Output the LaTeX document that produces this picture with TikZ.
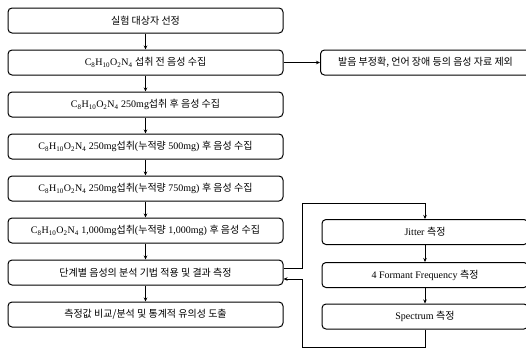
\documentclass[tikz,border=0pt]{standalone}
\usepackage{fontspec}
\setmainfont{Liberation Serif}
\newfontfamily\kr{Noto Sans CJK KR}
\usetikzlibrary{arrows.meta}
\newcommand{\K}[1]{{\kr #1}}
\newcommand{\caf}{C\textsubscript{8}H\textsubscript{10}O\textsubscript{2}N\textsubscript{4}}
\begin{document}
\begin{tikzpicture}[x=1pt,y=-1pt,
  box/.style={draw=black,line width=1pt,rounded corners=4pt,minimum height=25pt,inner sep=0pt,font=\fontsize{10}{12}\selectfont},
  lbox/.style={box,minimum width=275pt},
  rbox/.style={box,minimum width=206pt},
  conn/.style={line width=0.9pt},
  arr/.style={conn,-{Stealth[length=4pt,width=3.5pt]}}]
\useasboundingbox (0,0) rectangle (526,349);
\node[lbox] (b1) at (145.5,20.5) {\K{실험 대상자 선정}};
\node[lbox] (b2) at (145.5,62.5) {\caf\ \K{섭취 전 음성 수집}};
\node[lbox] (b3) at (145.5,104.5) {\caf\ 250mg\K{섭취 후 음성 수집}};
\node[lbox] (b4) at (145.5,146.5) {\caf\ 250mg\K{섭취}(\K{누적량} 500mg) \K{후 음성 수집}};
\node[lbox] (b5) at (145.5,188.5) {\caf\ 250mg\K{섭취}(\K{누적량} 750mg) \K{후 음성 수집}};
\node[lbox] (b6) at (145.5,230.5) {\caf\ 1,000mg\K{섭취}(\K{누적량} 1,000mg) \K{후 음성 수집}};
\node[lbox] (b7) at (145.5,272.5) {\K{단계별 음성의 분석 기법 적용 및 결과 측정}};
\node[lbox] (b8) at (145.5,314.5) {\K{측정값 비교/분석 및 통계적 유의성 도출}};
\node[box,minimum width=210pt,anchor=west] (ex) at (320,62.5) {\K{발음 부정확, 언어 장애 등의 음성 자료 제외}};
\node[rbox] (j) at (425,232) {Jitter \K{측정}};
\node[rbox] (f) at (425,275) {4 Formant Frequency \K{측정}};
\node[rbox] (s) at (425,316.5) {Spectrum \K{측정}};
\foreach \a/\b in {b1/b2,b2/b3,b3/b4,b4/b5,b5/b6,b6/b7,b7/b8,j/f,f/s}
  \draw[arr] (\a) -- (\b);
\draw[arr] (b2) -- (ex);
\coordinate (o1) at (302,268);
\coordinate (o2) at (302,203);
\coordinate (o3) at (425,203);
\draw[arr] (b7.east |- o1) -- (o1) -- (o2) -- (o3) -- (j);
\coordinate (r1) at (425,347);
\coordinate (r2) at (302,347);
\coordinate (r3) at (302,279);
\draw[arr] (s) -- (r1) -- (r2) -- (r3) -- (b7.east |- r3);
\end{tikzpicture}
\end{document}
